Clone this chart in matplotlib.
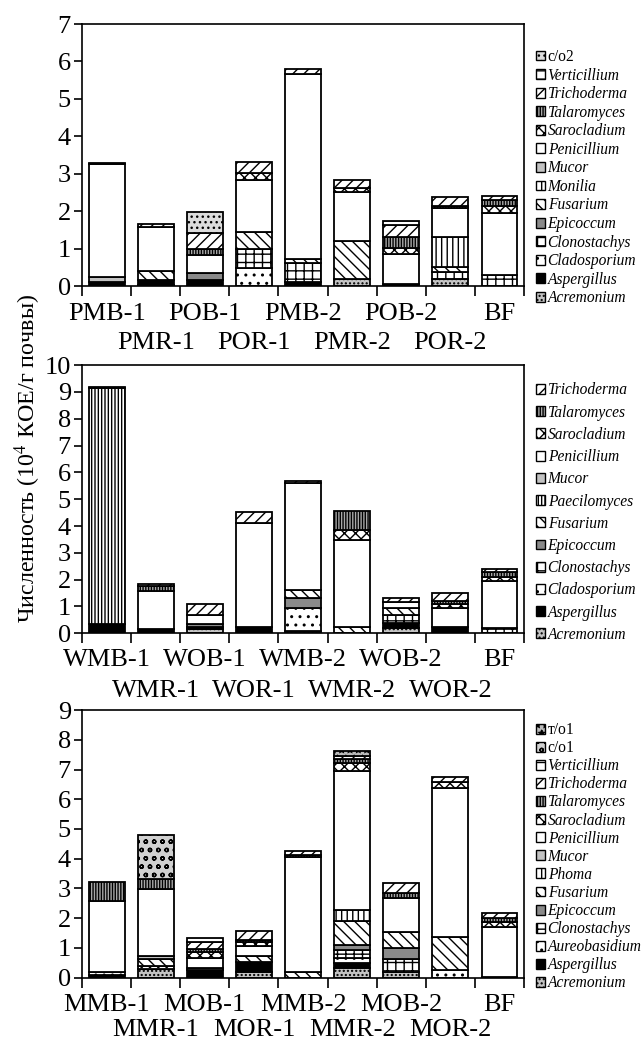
import numpy as np
import matplotlib.pyplot as plt
from matplotlib.patches import Patch

plt.rcParams['font.family'] = ['Liberation Serif', 'DejaVu Serif']
plt.rcParams['mathtext.fontset'] = 'stix'
plt.rcParams['hatch.linewidth'] = 1.0

# ---- panel 1 (P) ----
p_names = ['PMB-1', 'PMR-1', 'POB-1', 'POR-1', 'PMB-2', 'PMR-2', 'POB-2', 'POR-2', 'BF']
p_acremonium   = [0,    0.03, 0,    0,    0,    0.20, 0,    0.20, 0]
p_aspergillus  = [0.10, 0.13, 0.16, 0,    0.10, 0,    0.05, 0,    0]
p_cladosporium = [0,    0,    0,    0.47, 0,    0,    0,    0,    0]
p_clonostachys = [0,    0,    0,    0.51, 0.52, 0,    0,    0.18, 0.29]
p_epicoccum    = [0,    0,    0.18, 0,    0,    0,    0,    0,    0]
p_fusarium     = [0,    0.25, 0,    0.46, 0.10, 1.00, 0,    0.14, 0]
p_monilia      = [0,    0,    0,    0,    0,    0,    0,    0.80, 0]
p_mucor        = [0.13, 0,    0,    0,    0,    0,    0,    0,    0]
p_penicillium  = [3.04, 1.18, 0.49, 1.39, 4.95, 1.32, 0.80, 0.76, 1.65]
p_sarocladium  = [0,    0,    0,    0.18, 0,    0.09, 0.16, 0,    0.20]
p_talaromyces  = [0,    0,    0.16, 0,    0,    0,    0.31, 0.05, 0.16]
p_trichoderma  = [0.03, 0.06, 0.42, 0.31, 0.13, 0.22, 0.31, 0.26, 0.11]
p_verticillium = [0,    0,    0,    0,    0,    0,    0.11, 0,    0]
p_co2          = [0,    0,    0.58, 0,    0,    0,    0,    0,    0]

# ---- panel 2 (W) ----
w_names = ['WMB-1', 'WMR-1', 'WOB-1', 'WOR-1', 'WMB-2', 'WMR-2', 'WOB-2', 'WOR-2', 'BF']
w_acremonium   = [0,    0,    0.15, 0,    0.10, 0,    0.21, 0,    0]
w_aspergillus  = [0.35, 0.16, 0.08, 0.25, 0,    0,    0.19, 0.25, 0]
w_cladosporium = [0,    0,    0,    0,    0.83, 0,    0,    0,    0]
w_clonostachys = [0,    0,    0,    0,    0,    0,    0.28, 0,    0.21]
w_epicoccum    = [0,    0,    0.10, 0,    0.37, 0,    0,    0,    0]
w_fusarium     = [0,    0,    0,    0,    0.31, 0.25, 0.25, 0,    0]
w_paecilomyces = [8.80, 0,    0,    0,    0,    0,    0,    0,    0]
w_mucor        = [0.03, 0,    0,    0,    0,    0,    0,    0,    0]
w_penicillium  = [0,    1.40, 0.37, 3.85, 3.98, 3.23, 0.25, 0.68, 1.75]
w_sarocladium  = [0,    0,    0,    0,    0,    0.37, 0,    0.17, 0.15]
w_talaromyces  = [0,    0.20, 0,    0,    0,    0.70, 0,    0.12, 0.16]
w_trichoderma  = [0,    0.06, 0.38, 0.43, 0.08, 0,    0.15, 0.30, 0.12]

# ---- panel 3 (M) ----
m_names = ['MMB-1', 'MMR-1', 'MOB-1', 'MOR-1', 'MMB-2', 'MMR-2', 'MOB-2', 'MOR-2', 'BF']
m_acremonium    = [0,    0.28, 0,    0.18, 0,    0.31, 0.18, 0,    0]
m_aspergillus   = [0.09, 0,    0.26, 0.36, 0,    0.17, 0,    0,    0.04]
m_aureobasidium = [0.11, 0.11, 0.07, 0,    0,    0.17, 0,    0.26, 0]
m_clonostachys  = [0,    0,    0,    0,    0,    0.28, 0.44, 0,    0]
m_epicoccum     = [0,    0,    0,    0,    0,    0.17, 0.37, 0,    0]
m_fusarium      = [0,    0.23, 0,    0.19, 0.20, 0.82, 0.56, 1.10, 0]
m_phoma         = [0,    0,    0,    0,    0,    0.36, 0,    0,    0]
m_mucor         = [0,    0.11, 0,    0,    0,    0,    0,    0,    0]
m_penicillium   = [2.39, 2.24, 0.32, 0.35, 3.87, 4.68, 1.12, 5.01, 1.65]
m_sarocladium   = [0,    0,    0.21, 0.12, 0,    0.27, 0,    0.22, 0.19]
m_talaromyces   = [0.62, 0.35, 0.10, 0.08, 0.05, 0.11, 0.17, 0,    0.12]
m_trichoderma   = [0,    0,    0.25, 0.30, 0.15, 0.11, 0.33, 0.17, 0.16]
m_verticillium  = [0,    0,    0.11, 0,    0,    0,    0,    0,    0]
m_co1           = [0,    1.48, 0,    0,    0,    0,    0,    0,    0]
m_to1           = [0,    0,    0,    0,    0,    0.18, 0,    0,    0]

# fill colour and hatch for each group
STYLE = {
    'Acremonium': ('#c4c4c4', '....'),
    'Aspergillus': ('black', ''),
    'Cladosporium': ('white', '..'),
    'Aureobasidium': ('white', '..'),
    'Clonostachys': ('white', '++'),
    'Epicoccum': ('#8a8a8a', ''),
    'Fusarium': ('white', '\\\\\\'),
    'Monilia': ('white', '|||'),
    'Paecilomyces': ('white', '|||||'),
    'Phoma': ('white', '|||'),
    'Mucor': ('#c2c2c2', ''),
    'Penicillium': ('white', ''),
    'Sarocladium': ('white', 'xxx'),
    'Talaromyces': ('#a8a8a8', '||||||'),
    'Trichoderma': ('white', '///'),
    'Verticillium': ('white', '--'),
    'c/o2': ('#dcdcdc', '...'),
    'c/o1': ('#d0d0d0', 'oo'),
    'т/о1': ('#bcbcbc', '**'),
}
ROMAN = ('c/o2', 'c/o1', 'т/о1')


def draw_panel(ax, names, genera, values, ymax, leg_top, leg_space, pad, row_gap):
    x = np.arange(len(names))
    bottom = np.zeros(len(names))
    handles = []
    for g, v in zip(genera, values):
        v = np.array(v, dtype=float)
        fc, h = STYLE[g]
        keep = v > 0
        ax.bar(x[keep], v[keep], bottom=bottom[keep], width=0.73, color=fc,
               hatch=h, edgecolor='black', linewidth=1.3)
        bottom += v
        handles.append(Patch(facecolor=fc, hatch=h, edgecolor='black',
                             linewidth=1.0, label=g))
    ax.set_xlim(-0.5, len(names) - 0.5)
    ax.set_ylim(0, ymax)
    ax.set_yticks(np.arange(0, ymax + 1, 1))
    ax.set_xticks(x)
    ax.set_xticklabels(names)
    ax.set_xticks(np.arange(-0.5, len(names), 1), minor=True)
    ax.tick_params(axis='x', which='major', length=0, pad=pad, labelsize=19)
    ax.tick_params(axis='x', which='minor', length=7, width=1.2, direction='out')
    ax.tick_params(axis='y', length=6, width=1.2, direction='out', labelsize=19, pad=2)
    # every second label goes on a lower row
    for i, tick in enumerate(ax.xaxis.get_major_ticks()):
        if i % 2:
            tick.set_pad(pad + row_gap)
    for s in ax.spines.values():
        s.set_linewidth(1.2)
    leg = ax.legend(handles=handles[::-1], loc='upper left',
                    bbox_to_anchor=(1.027, leg_top), frameon=False,
                    fontsize=11.2, handlelength=0.6, handleheight=0.6,
                    handletextpad=0.15, labelspacing=leg_space, borderpad=0,
                    borderaxespad=0)
    for t in leg.get_texts():
        if t.get_text() not in ROMAN:
            t.set_style('italic')


fig = plt.figure(figsize=(6.41, 10.42), dpi=100)
ax1 = fig.add_axes([0.128, 0.7255, 0.6895, 0.2514])
ax2 = fig.add_axes([0.128, 0.3922, 0.6895, 0.2575])
ax3 = fig.add_axes([0.128, 0.0617, 0.6895, 0.2569])

draw_panel(ax1, p_names,
           ['Acremonium', 'Aspergillus', 'Cladosporium', 'Clonostachys', 'Epicoccum',
            'Fusarium', 'Monilia', 'Mucor', 'Penicillium', 'Sarocladium',
            'Talaromyces', 'Trichoderma', 'Verticillium', 'c/o2'],
           [p_acremonium, p_aspergillus, p_cladosporium, p_clonostachys, p_epicoccum,
            p_fusarium, p_monilia, p_mucor, p_penicillium, p_sarocladium,
            p_talaromyces, p_trichoderma, p_verticillium, p_co2],
           7, 0.905, 0.165, 12.5, 20.5)

draw_panel(ax2, w_names,
           ['Acremonium', 'Aspergillus', 'Cladosporium', 'Clonostachys', 'Epicoccum',
            'Fusarium', 'Paecilomyces', 'Mucor', 'Penicillium', 'Sarocladium',
            'Talaromyces', 'Trichoderma'],
           [w_acremonium, w_aspergillus, w_cladosporium, w_clonostachys, w_epicoccum,
            w_fusarium, w_paecilomyces, w_mucor, w_penicillium, w_sarocladium,
            w_talaromyces, w_trichoderma],
           10, 0.935, 0.4, 11, 22.5)

draw_panel(ax3, m_names,
           ['Acremonium', 'Aspergillus', 'Aureobasidium', 'Clonostachys', 'Epicoccum',
            'Fusarium', 'Phoma', 'Mucor', 'Penicillium', 'Sarocladium',
            'Talaromyces', 'Trichoderma', 'Verticillium', 'c/o1', 'т/о1'],
           [m_acremonium, m_aspergillus, m_aureobasidium, m_clonostachys, m_epicoccum,
            m_fusarium, m_phoma, m_mucor, m_penicillium, m_sarocladium,
            m_talaromyces, m_trichoderma, m_verticillium, m_co1, m_to1],
           9, 0.955, 0.135, 11.5, 18)

fig.text(0.043, 0.56, 'Численность (10$^4$ КОЕ/г почвы)', rotation=90,
         ha='center', va='center', fontsize=17.3)

fig.savefig('out.png', dpi=100)
